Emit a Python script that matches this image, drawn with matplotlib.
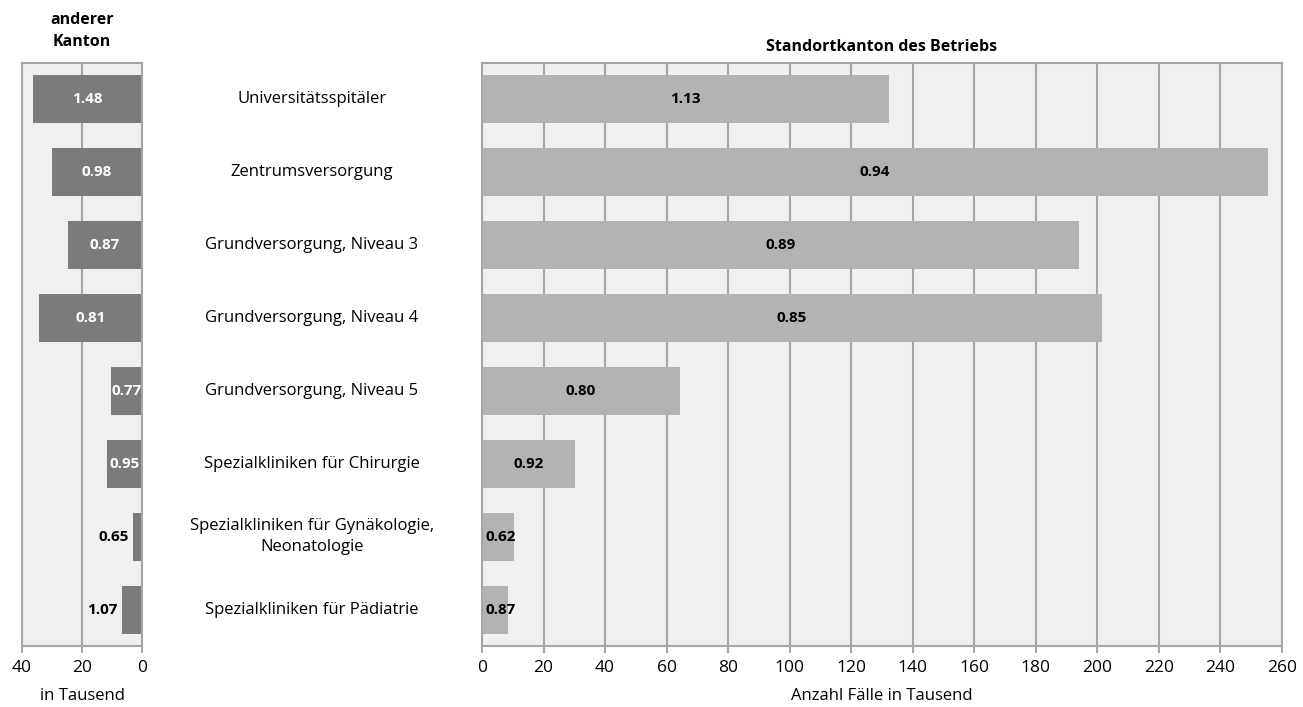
import matplotlib.pyplot as plt
from matplotlib.transforms import blended_transform_factory

plt.rcParams['font.family'] = ['Open Sans', 'DejaVu Sans']

categories = ["Universitätsspitäler", "Zentrumsversorgung", "Grundversorgung, Niveau 3",
              "Grundversorgung, Niveau 4", "Grundversorgung, Niveau 5",
              "Spezialkliniken für Chirurgie", "Spezialkliniken für Gynäkologie,\nNeonatologie",
              "Spezialkliniken für Pädiatrie"]
other_canton = [36.3, 30.0, 24.7, 34.3, 10.3, 11.7, 3.0, 6.7]
other_labels = ["1.48", "0.98", "0.87", "0.81", "0.77", "0.95", "0.65", "1.07"]
home_canton = [132.3, 255.4, 194.0, 201.5, 64.3, 30.2, 10.4, 8.5]
home_labels = ["1.13", "0.94", "0.89", "0.85", "0.80", "0.92", "0.62", "0.87"]

bg = "#eff0ef"
grid_col = "#a6a6a6"
dark_bar = "#7a7b7c"
light_bar = "#b2b3b4"

fig = plt.figure(figsize=(13.03, 7.07), dpi=100)
W, H = 1303, 707
ax_l = fig.add_axes([22 / W, (H - 646) / H, 120 / W, 583 / H])
ax_r = fig.add_axes([482 / W, (H - 646) / H, 800 / W, 583 / H])

y = list(range(len(categories)))

for ax in (ax_l, ax_r):
    ax.set_facecolor(bg)
    ax.set_axisbelow(True)
    ax.grid(axis="x", color=grid_col, linewidth=1.5)
    for s in ax.spines.values():
        s.set_color(grid_col)
        s.set_linewidth(1.5)
    ax.tick_params(axis="x", colors=grid_col, labelcolor="black", labelsize=12.5,
                   length=5, width=1.5, pad=5)
    ax.tick_params(axis="y", left=False, labelleft=False)
    ax.set_ylim(len(categories) - 0.5, -0.5)

# left panel: anderer Kanton (reversed)
ax_l.barh(y, other_canton, height=0.66, color=dark_bar)
ax_l.set_xlim(40, 0)
ax_l.set_xticks([40, 20, 0])
ax_l.set_xlabel("in Tausend", fontsize=12, labelpad=9)
for yi, v, lab in zip(y, other_canton, other_labels):
    if v >= 8:
        ax_l.text(v / 2, yi, lab, ha="center", va="center", color="white",
                  fontsize=11, fontweight="bold")
    else:
        ax_l.text(v + 1.5, yi, lab, ha="right", va="center", color="black",
                  fontsize=11, fontweight="bold")

# right panel: Standortkanton
ax_r.barh(y, home_canton, height=0.66, color=light_bar)
ax_r.set_xlim(0, 260)
ax_r.set_xticks(range(0, 261, 20))
ax_r.set_xlabel("Anzahl Fälle in Tausend", fontsize=12, labelpad=9)
for yi, v, lab in zip(y, home_canton, home_labels):
    if v >= 20:
        ax_r.text(v / 2, yi, lab, ha="center", va="center", color="black",
                  fontsize=11, fontweight="bold")
    else:
        ax_r.text(1.0, yi, lab, ha="left", va="center", color="black",
                  fontsize=11, fontweight="bold")

# category labels between panels
tr = blended_transform_factory(fig.transFigure, ax_r.transData)
for yi, cat in zip(y, categories):
    fig.text(312 / W, yi, cat, transform=tr, ha="center", va="center",
             fontsize=12, linespacing=1.4)

fig.text(82 / W, 1 - 31 / H, "anderer\nKanton", ha="center", va="center",
         fontsize=11.5, fontweight="bold", linespacing=1.45)
fig.text(882 / W, 1 - 47 / H, "Standortkanton des Betriebs", ha="center",
         va="center", fontsize=11.5, fontweight="bold")

fig.savefig("out.png", dpi=100)
